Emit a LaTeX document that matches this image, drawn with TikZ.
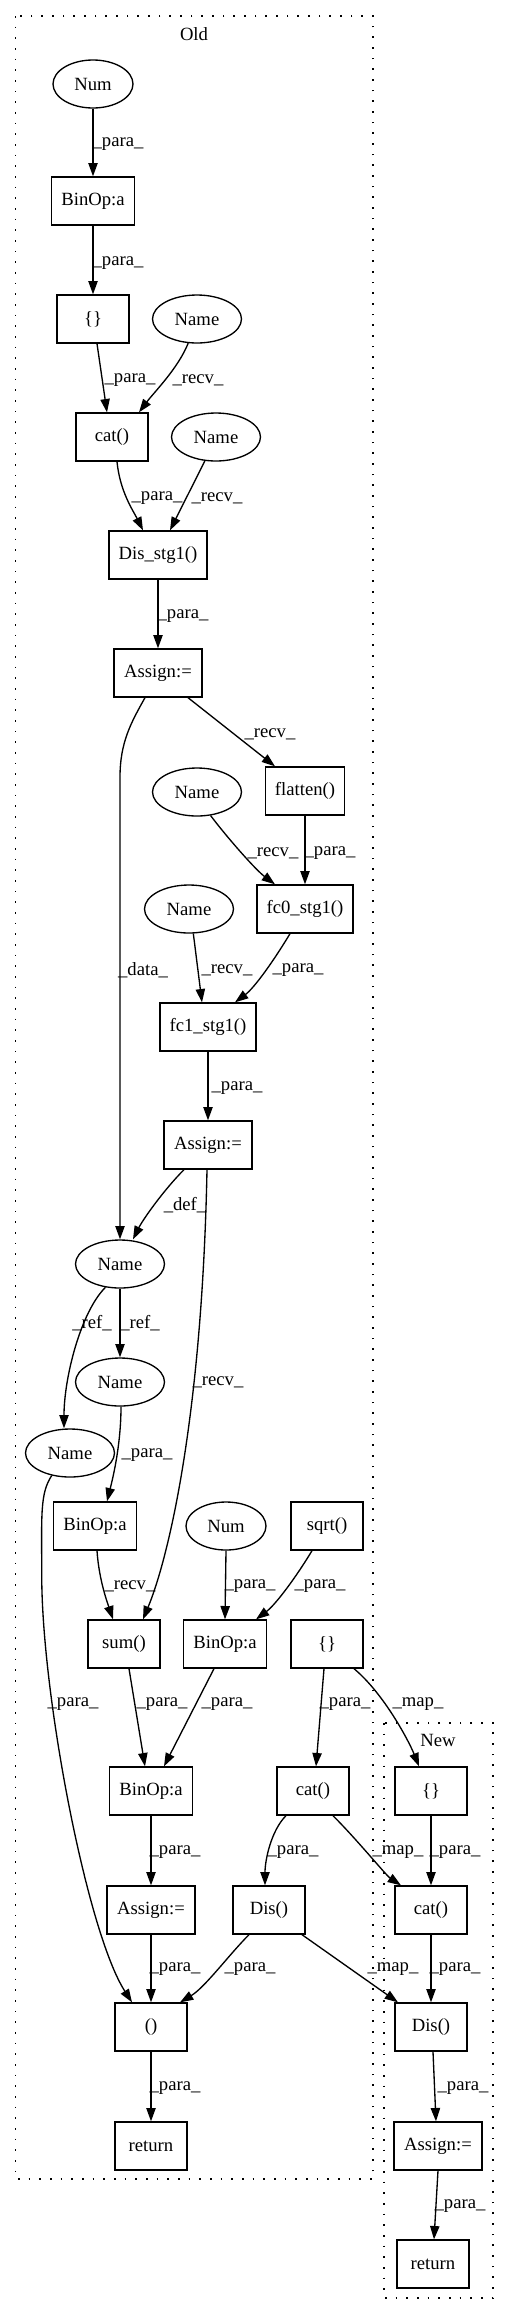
\documentclass[tikz,border=0pt]{standalone}
\usepackage{fontspec}
\setmainfont{Liberation Serif}
\usetikzlibrary{arrows.meta,shapes.geometric,calc}
\begin{document}
\begin{tikzpicture}[x=0.75pt,y=-0.75pt,
  font=\fontsize{14}{16}\selectfont,
  box/.style={draw, line width=1pt, rectangle, minimum height=36pt, inner sep=0pt, minimum width=#1},
  box/.default=54pt,
  ell/.style={draw, line width=1pt, ellipse, minimum height=36pt, inner sep=0pt, minimum width=#1},
  ell/.default=66.75pt,
  edge/.style={-{Triangle[length=10pt,width=7pt]}, line width=1pt},
  lbl/.style={inner sep=0pt},
  cluster/.style={line width=1pt, dash pattern=on 1.2pt off 6.8pt}]
\useasboundingbox (0,0) rectangle (509,2314);

% clusters
\draw[cluster] (15.7,16) rectangle (373,2179);
\node[lbl] (oldlbl) at (194,34) {Old};
\draw[cluster] (384,1723) rectangle (493,2298);
\node[lbl] (newlbl) at (438,1740) {New};

% nodes
\node[ell=60pt] (num1) at (93,84) {Num};
\node[box=62.25pt] (binop1) at (93,201) {BinOp:a};
\node[box] (br1) at (93,319) {\{\}};
\node[ell] (name1) at (197,319) {Name};
\node[box] (cat1) at (112,437) {cat()};
\node[ell] (name2) at (216,437) {Name};
\node[box=73.5pt] (dis1) at (158,555) {Dis\_stg1()};
\node[box=66pt] (asg1) at (158,673) {Assign:=};
\node[box=59.25pt] (flat) at (305,791) {flatten()};
\node[ell] (name3) at (197,792) {Name};
\node[box=72pt] (fc0) at (305,909) {fc0\_stg1()};
\node[ell] (name4) at (189,909) {Name};
\node[box=72pt] (fc1) at (208,1027) {fc1\_stg1()};
\node[box=66pt] (asg2) at (208,1145) {Assign:=};
\node[ell] (name5) at (120,1264) {Name};
\node[ell] (name6) at (120,1382) {Name};
\node[ell] (name7) at (70,1453) {Name};
\node[box=62.25pt] (binop2) at (95,1526) {BinOp:a};
\node[ell=60pt] (num2) at (226,1526) {Num};
\node[box] (sqrt) at (327,1526) {sqrt()};
\node[box] (sum) at (124,1644) {sum()};
\node[box=62.25pt] (binop3) at (225,1644) {BinOp:a};
\node[box] (br2) at (327,1644) {\{\}};
\node[box=62.25pt] (binop4) at (151,1791) {BinOp:a};
\node[box] (cat2) at (313,1791) {cat()};
\node[box] (brN) at (431,1791) {\{\}};
\node[box=66pt] (asg3) at (151,1910) {Assign:=};
\node[box] (dis2) at (269,1910) {Dis()};
\node[box] (catN) at (431,1910) {cat()};
\node[box] (tup) at (151,2027) {()};
\node[box] (disN) at (431,2027) {Dis()};
\node[box] (ret1) at (151,2146) {return};
\node[box=66pt] (asgN) at (438,2146) {Assign:=};
\node[box] (retN) at (433,2264) {return};

% edges
\draw[edge] (num1.south) -- (binop1.north);
\draw[edge] (binop1.south) -- (br1.north);
\draw[edge] ($(br1.south)+(4,0)$) -- ($(cat1.north)+(-5,0)$);
\draw[edge] (name1.250) .. controls +(-10,25) and +(15,-20) .. ($(cat1.north)+(27,0)$);
\draw[edge] ($(cat1.south)+(5,0)$) .. controls +(3,30) and +(-10,-20) .. ($(dis1.north)+(-15,0)$);
\draw[edge] (name2.245) -- ($(dis1.north)+(12,0)$);
\draw[edge] (dis1.south) -- (asg1.north);
\draw[edge] ($(asg1.south)+(30,0)$) -- ($(flat.north)+(-30,0)$);
\draw[edge] ($(asg1.south)+(-13,0)$) .. controls +(-14,25) and +(0,-35) .. ($(name5.north)+(0,-462)$) -- (name5.north);
\draw[edge] (name3.300) .. controls +(15,20) and +(-20,-15) .. ($(fc0.north)+(-30,0)$);
\draw[edge] (flat.south) -- (fc0.north);
\draw[edge] (name4.280) -- ($(fc1.north)+(-6,0)$);
\draw[edge] ($(fc0.south)+(-15,0)$) .. controls +(-15,25) and +(20,-15) .. ($(fc1.north)+(27,0)$);
\draw[edge] (fc1.south) -- (asg2.north);
\draw[edge] ($(asg2.south)+(-24,0)$) .. controls +(-20,20) and +(10,-20) .. ($(name5.north)+(13,0)$);
\draw[edge] ($(asg2.south)+(-1,0)$) .. controls +(-5,250) and +(25,-60) .. ($(sum.north)+(19,0)$);
\draw[edge] (name5.south) -- (name6.north);
\draw[edge] (name5.238) .. controls +(-25,25) and +(0,-50) .. ($(name7.north)+(-6,0)$);
\draw[edge] ($(name6.south)+(1,0)$) .. controls +(0,40) and +(5,-20) .. ($(binop2.north)+(12,0)$);
\draw[edge] ($(binop2.south)+(2,0)$) .. controls +(2,30) and +(-5,-15) .. ($(sum.north)+(-11,0)$);
\draw[edge] (num2.south) -- (binop3.north);
\draw[edge] ($(sqrt.south)+(-15,0)$) .. controls +(-15,25) and +(20,-15) .. ($(binop3.north)+(31,0)$);
\draw[edge] ($(sum.south)+(5,0)$) -- ($(binop4.north)+(-6,0)$);
\draw[edge] ($(binop3.south)+(-11,0)$) -- ($(binop4.north)+(13,0)$);
\draw[edge] ($(br2.south)+(-3,0)$) -- ($(cat2.north)+(3,0)$);
\draw[edge] ($(br2.south)+(27,0)$) .. controls +(30,25) and +(-10,-25) .. ($(brN.north)+(-12,0)$);
\draw[edge] (binop4.south) -- (asg3.north);
\draw[edge] ($(cat2.south)+(-27,0)$) .. controls +(-15,15) and +(0,-25) .. ($(dis2.north)+(-4,0)$);
\draw[edge] ($(cat2.south)+(20,0)$) .. controls +(25,25) and +(-15,-10) .. ($(catN.north)+(-30,0)$);
\draw[edge] (brN.south) -- (catN.north);
\draw[edge] (asg3.south) -- (tup.north);
\draw[edge] ($(dis2.south)+(-20,0)$) .. controls +(-20,20) and +(25,-15) .. ($(tup.north)+(29,0)$);
\draw[edge] ($(dis2.south)+(33,0)$) -- ($(disN.north)+(-33,0)$);
\draw[edge] (catN.south) -- (disN.north);
\draw[edge] (name7.231) .. controls +(-12,18) and +(0,-60) .. ++(-10,100) .. controls +(0,120) and +(-45,-70) .. ($(tup.north)+(-19,0)$);
\draw[edge] (tup.south) -- (ret1.north);
\draw[edge] ($(disN.south)+(2,0)$) -- ($(asgN.north)+(-2,0)$);
\draw[edge] (asgN.south) -- ($(retN.north)+(1,0)$);

% edge labels
\node[lbl] (l1) at (118,144) {\_para\_};
\node[lbl] (l2) at (118,263) {\_para\_};
\node[lbl] (l3) at (130,380) {\_para\_};
\node[lbl] (l4) at (198,380) {\_recv\_};
\node[lbl] (l5) at (157,498) {\_para\_};
\node[lbl] (l6) at (217,498) {\_recv\_};
\node[lbl] (l7) at (183,616) {\_para\_};
\node[lbl] (l8) at (270,734) {\_recv\_};
\node[lbl] (l9) at (273,853) {\_recv\_};
\node[lbl] (l10) at (330,853) {\_para\_};
\node[lbl] (l11) at (143,970) {\_data\_};
\node[lbl] (l12) at (227,970) {\_recv\_};
\node[lbl] (l13) at (298,970) {\_para\_};
\node[lbl] (l14) at (237,1088) {\_para\_};
\node[lbl] (l15) at (185,1205) {\_def\_};
\node[lbl] (l16) at (218,1382) {\_recv\_};
\node[lbl] (l17) at (92,1323) {\_ref\_};
\node[lbl] (l18) at (140,1323) {\_ref\_};
\node[lbl] (l19) at (147,1455) {\_para\_};
\node[lbl] (l20) at (130,1586) {\_recv\_};
\node[lbl] (l21) at (250,1586) {\_para\_};
\node[lbl] (l22) at (320,1586) {\_para\_};
\node[lbl] (l23) at (73,1704) {\_para\_};
\node[lbl] (l24) at (162,1704) {\_para\_};
\node[lbl] (l25) at (227,1704) {\_para\_};
\node[lbl] (l26) at (345,1704) {\_para\_};
\node[lbl] (l27) at (418,1704) {\_map\_};
\node[lbl] (l28) at (175,1852) {\_para\_};
\node[lbl] (l29) at (293,1852) {\_para\_};
\node[lbl] (l30) at (398,1852) {\_map\_};
\node[lbl] (l31) at (455,1852) {\_para\_};
\node[lbl] (l32) at (175,1969) {\_para\_};
\node[lbl] (l33) at (250,1969) {\_para\_};
\node[lbl] (l34) at (393,1969) {\_map\_};
\node[lbl] (l35) at (455,1969) {\_para\_};
\node[lbl] (l36) at (175,2088) {\_para\_};
\node[lbl] (l37) at (463,2088) {\_para\_};
\node[lbl] (l38) at (460,2206) {\_para\_};
\end{tikzpicture}
\end{document}
